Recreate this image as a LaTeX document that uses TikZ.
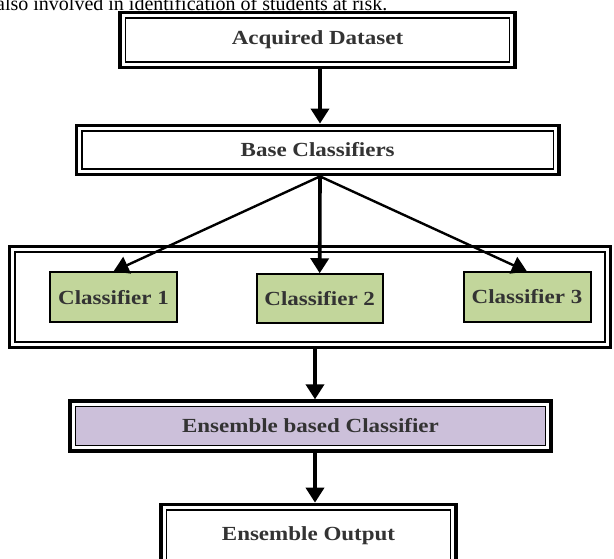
\documentclass[tikz,border=0pt]{standalone}
\usepackage{fontspec}
\setmainfont{Liberation Serif}
\newfontfamily\boxfont[FakeStretch=1.15]{Liberation Serif}
\usetikzlibrary{arrows.meta}
\definecolor{clsgreen}{HTML}{C2D69B}
\definecolor{enspurple}{HTML}{CCC0DA}
\definecolor{labelgray}{HTML}{333333}
\begin{document}
\begin{tikzpicture}[x=1pt,y=-1pt,
  dbox/.style={rectangle, draw, line width=3.3pt, inner sep=0pt,
    font=\boxfont\bfseries\fontsize{20}{24}\selectfont, text=labelgray,
    path picture={\draw[line width=1.8pt, fill=#1]
      ([shift={(5.5pt,5.5pt)}]path picture bounding box.south west) rectangle
      ([shift={(-5.5pt,-5.5pt)}]path picture bounding box.north east);}},
  dbox/.default=white,
  clsbox/.style={rectangle, draw, line width=2pt, fill=clsgreen, inner sep=0pt,
    font=\boxfont\bfseries\fontsize{20}{24}\selectfont, text=labelgray},
  flow/.style={line width=3.6pt, -{Triangle[length=15pt,width=18pt]}},
  fan/.style={line width=2.4pt, -{Triangle[length=15pt,width=18pt]}}]
\useasboundingbox (0,0) rectangle (614,559);
\clip (0,0) rectangle (614,559);

% running text above the figure
\node[anchor=base west, inner sep=0pt, font=\fontsize{20}{24}\selectfont] (para) at (-4,10.5)
  {also involved in identification of students at risk.};

% main boxes
\node[dbox, minimum width=395pt, minimum height=54.5pt] (data) at (317.5,40) {Acquired Dataset};
\node[dbox, minimum width=482.5pt, minimum height=49.5pt] (base) at (317.7,150) {Base Classifiers};
\node[dbox, minimum width=601pt, minimum height=101pt] (pool) at (310,297.2) {};
\node[clsbox, minimum width=127pt, minimum height=49.5pt] (c1) at (113.5,297.2) {Classifier 1};
\node[clsbox, minimum width=126pt, minimum height=48.3pt] (c2) at (319.7,298.4) {Classifier 2};
\node[clsbox, minimum width=127pt, minimum height=49pt] (c3) at (527,297) {Classifier 3};
\node[dbox=enspurple, minimum width=481pt, minimum height=50pt] (ens) at (310.5,426) {Ensemble based Classifier};
\node[dbox, minimum width=295pt, minimum height=62pt] (out) at (308.5,535.3) {Ensemble Output};

% connectors
\draw[flow] (data.south -| 320,0) -- (base.north -| 320,0);
\draw[fan] (base.south -| 320,0) -- (c1.north);
\draw[flow] (base.south -| 320,0) -- (c2.north);
\draw[fan] (base.south -| 320,0) -- (c3.north);
\draw[flow] (pool.south -| 315,0) -- (ens.north -| 315,0);
\draw[flow] (ens.south -| 315,0) -- (out.north -| 315,0);
\end{tikzpicture}
\end{document}
